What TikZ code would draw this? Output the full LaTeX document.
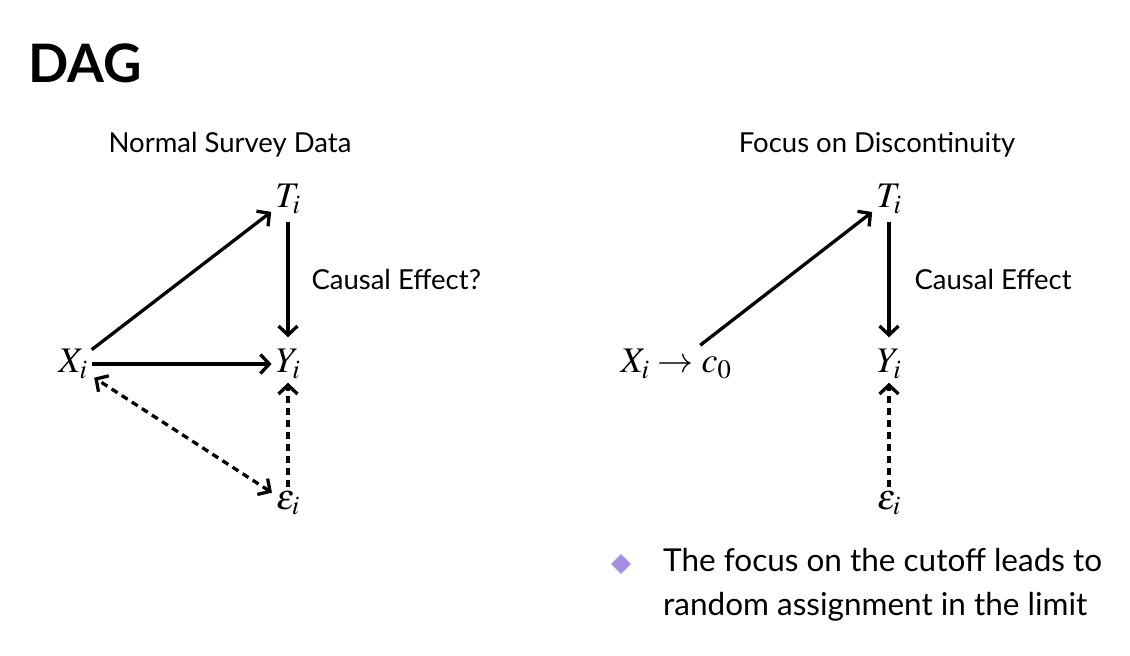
\documentclass[tikz,border=0pt]{standalone}
\usepackage{amsmath}
\usepackage{amssymb}
\usepackage{mathptmx}
\usepackage[no-math]{fontspec}
\setmainfont{Lato}
\usetikzlibrary{arrows.meta, shapes.geometric, positioning}
\definecolor{bulletpurple}{HTML}{A58DE0}
\tikzstyle{arrow} = [line width=3.3pt, -{Straight Barb[length=9pt, width=19pt]}]
\tikzstyle{dasharrow} = [arrow, dash pattern=on 7pt off 5pt]
\tikzstyle{var} = [inner sep=4pt, font=\fontsize{36}{40}\selectfont]
\tikzstyle{caption} = [font=\fontsize{27.5}{32}\selectfont]

\begin{document}
\begin{tikzpicture}[x=1pt, y=-1pt]
\useasboundingbox (0, 0) rectangle (1130, 656);

\node (title) [anchor=west, inner sep=0pt, font=\fontsize{53}{60}\bfseries\selectfont] at (28, 63) {DAG};

% normal survey data
\node (headleft) [caption] at (230, 145) {Normal Survey Data};
\node (tleft) [var] at (288, 199) {$ T_i $};
\node (yleft) [var] at (288, 364) {$ Y_i $};
\node (xleft) [var] at (73, 364) {$ X_i $};
\node (eleft) [var] at (288, 503) {$ \varepsilon_i $};
\node (effleft) [caption, anchor=west] at (308, 279) {Causal Effect?};

\draw[arrow] (xleft) -- (tleft);
\draw[arrow, shorten <=4pt, shorten >=8pt] (tleft) -- (yleft);
\draw[arrow] (xleft) -- (yleft);
\draw[dasharrow, shorten >=3pt, {Straight Barb[length=9pt, width=19pt]}-{Straight Barb[length=9pt, width=19pt]}] (eleft) -- (xleft);
\draw[dasharrow] (eleft) -- (yleft);

% focus on discontinuity
\node (headright) [caption] at (877, 145) {Focus on Discontinuity};
\node (tright) [var] at (889, 199) {$ T_i $};
\node (yright) [var] at (889, 364) {$ Y_i $};
\node (xright) [var] at (676, 364) {$ X_i \to c_0 $};
\node (eright) [var] at (889, 503) {$ \varepsilon_i $};
\node (effright) [caption, anchor=west] at (911, 279) {Causal Effect};

\draw[arrow] (xright) -- (tright);
\draw[arrow, shorten <=4pt, shorten >=8pt] (tright) -- (yright);
\draw[dasharrow] (eright) -- (yright);

% bullet
\node (dot) [diamond, fill=bulletpurple, inner sep=0pt, minimum size=20pt] at (621, 564) {};
\node (bullet) [anchor=north west, align=left, inner sep=0pt, font=\fontsize{31.5}{44}\selectfont] at (663, 548) {The focus on the cutoff leads to\\random assignment in the limit};
\end{tikzpicture}
\end{document}
